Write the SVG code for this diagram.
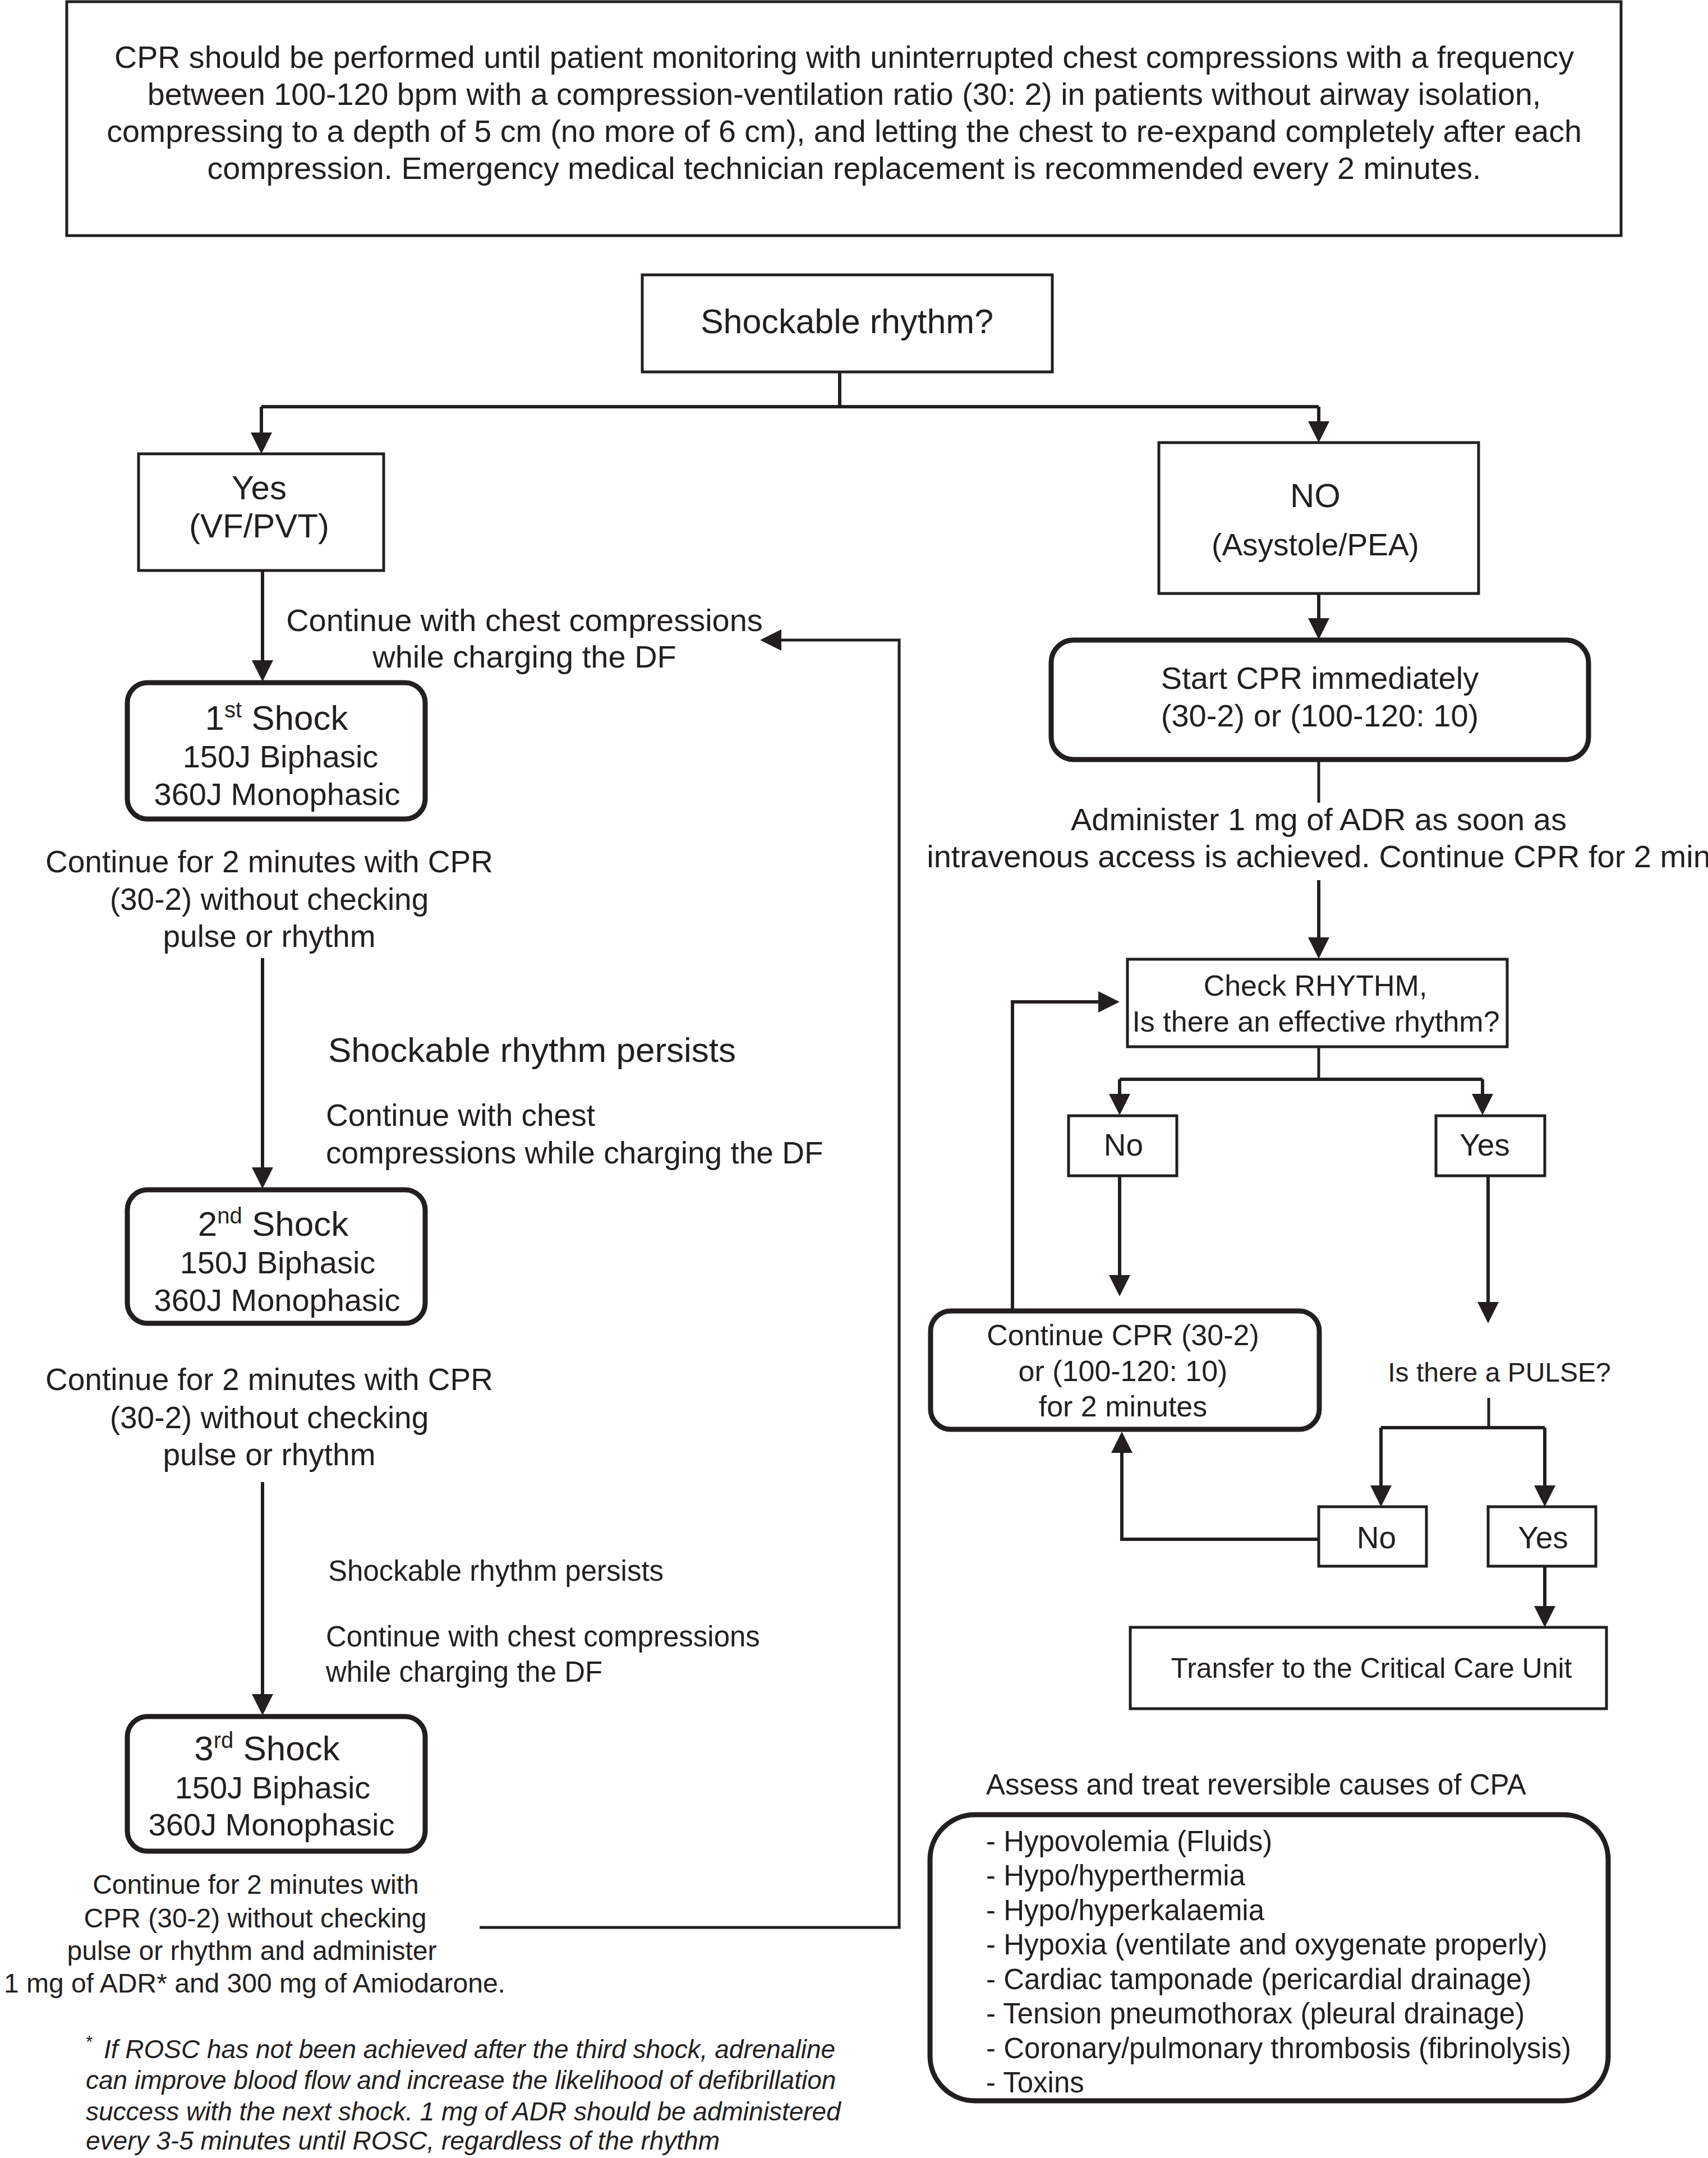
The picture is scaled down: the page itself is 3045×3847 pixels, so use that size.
<svg xmlns="http://www.w3.org/2000/svg" width="3045" height="3847" viewBox="0 0 3045 3847">
<style>
text{font-family:"Liberation Sans",Arial,Helvetica,sans-serif;fill:#231f20}
.c{text-anchor:middle}
.f62{font-size:62px}.f61{font-size:61px}.f60{font-size:60px}.f56{font-size:56px}.f555{font-size:55.6px}.f55{font-size:55px}.f52{font-size:52px}.f51{font-size:51px}.f50{font-size:50px}.f48{font-size:48px}
.fn{font-size:46px;font-style:italic}
.box{fill:#fff;stroke:#231f20;stroke-width:5}
.rbox{fill:#fff;stroke:#231f20;stroke-width:9}
.ln{fill:none;stroke:#231f20;stroke-width:6}
.ar{fill:none;stroke:#231f20;stroke-width:6;marker-end:url(#ah)}
.thin{stroke-width:5}
</style>
<defs>
<marker id="ah" markerUnits="userSpaceOnUse" markerWidth="40" markerHeight="40" refX="30" refY="19" orient="auto"><path d="M0,0 L38,19 L0,38 z" fill="#231f20"/></marker>
</defs>
<rect width="3045" height="3847" fill="#fff"/>

<g id="connectors">
<path class="ln" d="M1497,663 V725 M466,725 H2351"/>
<path class="ar" d="M466,725 V801"/>
<path class="ar" d="M2351,725 V781"/>
<path class="ar" d="M468,1017 V1207"/>
<path class="ar thin" d="M855,3436 H1603 V1141 H1363"/>
<path class="ar" d="M468,1708 V2111"/>
<path class="ar" d="M468,2642 V3050"/>
<path class="ar" d="M2351,1058 V1132"/>
<path class="ln thin" d="M2351,1354 V1431"/>
<path class="ar" d="M2351,1569 V1701"/>
<path class="ln thin" d="M2351,1866 V1924"/>
<path class="ln" d="M1996,1924 H2643"/>
<path class="ar" d="M1996,1924 V1980"/>
<path class="ar" d="M2643,1924 V1980"/>
<path class="ar" d="M1996,2096 V2303"/>
<path class="ar" d="M2653,2096 V2351"/>
<path class="ar" d="M1805,2337 V1786 H1988"/>
<path class="ln thin" d="M2654,2492 V2545"/>
<path class="ln" d="M2462,2545 H2754"/>
<path class="ar" d="M2462,2545 V2678"/>
<path class="ar" d="M2754,2545 V2678"/>
<path class="ar" d="M2351,2744 H2000 V2560"/>
<path class="ar" d="M2754,2792 V2893"/>
</g>

<g id="intro">
<rect class="box" x="119" y="3" width="2771" height="417"/>
<text class="c f555" x="1505" y="121">CPR should be performed until patient monitoring with uninterrupted chest compressions with a frequency</text>
<text class="c f555" x="1505" y="187">between 100-120 bpm with a compression-ventilation ratio (30: 2) in patients without airway isolation,</text>
<text class="c f555" x="1505" y="253">compressing to a depth of 5 cm (no more of 6 cm), and letting the chest to re-expand completely after each</text>
<text class="c f555" x="1505" y="319">compression. Emergency medical technician replacement is recommended every 2 minutes.</text>
</g>

<g id="shockable">
<rect class="box" x="1145" y="490" width="731" height="173"/>
<text class="c f61" x="1510" y="594">Shockable rhythm?</text>
</g>

<g id="yes-vf">
<rect class="box" x="247" y="809" width="437" height="208"/>
<text class="c f60" x="462" y="890">Yes</text>
<text class="c f60" x="462" y="958">(VF/PVT)</text>
</g>

<g id="no-asystole">
<rect class="box" x="2066" y="789" width="570" height="269"/>
<text class="c f60" x="2345" y="904">NO</text>
<text class="c f55" x="2345" y="990">(Asystole/PEA)</text>
</g>

<g id="label-continue-1">
<text class="c f56" x="935" y="1125">Continue with chest compressions</text>
<text class="c f56" x="935" y="1190">while charging the DF</text>
</g>

<g id="shock1">
<rect class="rbox" x="227" y="1217" width="531" height="243" rx="36"/>
<text class="c f62" x="493" y="1301">1<tspan font-size="40" dy="-22">st</tspan><tspan dy="22"> Shock</tspan></text>
<text class="c f56" x="500" y="1368">150J Biphasic</text>
<text class="c f56" x="494" y="1435">360J Monophasic</text>
</g>

<g id="label-cpr-1">
<text class="c f55" x="480" y="1555">Continue for 2 minutes with CPR</text>
<text class="c f55" x="480" y="1622">(30-2) without checking</text>
<text class="c f55" x="480" y="1688">pulse or rhythm</text>
</g>

<g id="label-persists-1">
<text class="f62" x="585" y="1893">Shockable rhythm persists</text>
<text class="f55" x="581" y="2007">Continue with chest</text>
<text class="f55" x="581" y="2074">compressions while charging the DF</text>
</g>

<g id="shock2">
<rect class="rbox" x="227" y="2121" width="531" height="238" rx="36"/>
<text class="c f62" x="487" y="2203">2<tspan font-size="40" dy="-22">nd</tspan><tspan dy="22"> Shock</tspan></text>
<text class="c f56" x="495" y="2270">150J Biphasic</text>
<text class="c f56" x="494" y="2337">360J Monophasic</text>
</g>

<g id="label-cpr-2">
<text class="c f55" x="480" y="2478">Continue for 2 minutes with CPR</text>
<text class="c f55" x="480" y="2546">(30-2) without checking</text>
<text class="c f55" x="480" y="2612">pulse or rhythm</text>
</g>

<g id="label-persists-2">
<text class="f51" x="585" y="2818">Shockable rhythm persists</text>
<text class="f51" x="581" y="2935">Continue with chest compressions</text>
<text class="f51" x="581" y="2998">while charging the DF</text>
</g>

<g id="shock3">
<rect class="rbox" x="227" y="3060" width="531" height="240" rx="36"/>
<text class="c f62" x="476" y="3138">3<tspan font-size="40" dy="-22">rd</tspan><tspan dy="22"> Shock</tspan></text>
<text class="c f56" x="486" y="3206">150J Biphasic</text>
<text class="c f56" x="484" y="3272">360J Monophasic</text>
</g>

<g id="label-cpr-3">
<text class="c f48" x="456" y="3376">Continue for 2 minutes with</text>
<text class="c f48" x="455" y="3436">CPR (30-2) without checking</text>
<text class="c f48" x="449" y="3494">pulse or rhythm and administer</text>
<text class="c f48" x="454" y="3552">1 mg of ADR* and 300 mg of Amiodarone.</text>
</g>

<g id="footnote">
<text class="fn" x="153" y="3669"><tspan font-size="32" font-style="normal" dy="-18">*</tspan><tspan x="185" dy="18">If ROSC has not been achieved after the third shock, adrenaline</tspan></text>
<text class="fn" x="153" y="3724">can improve blood flow and increase the likelihood of defibrillation</text>
<text class="fn" x="153" y="3780">success with the next shock. 1 mg of ADR should be administered</text>
<text class="fn" x="153" y="3832">every 3-5 minutes until ROSC, regardless of the rhythm</text>
</g>

<g id="start-cpr">
<rect class="rbox" x="1874" y="1141" width="958" height="213" rx="40"/>
<text class="c f56" x="2353" y="1228">Start CPR immediately</text>
<text class="c f56" x="2353" y="1295">(30-2) or (100-120: 10)</text>
</g>

<g id="label-adr">
<text class="c f56" x="2351" y="1480">Administer 1 mg of ADR as soon as</text>
<text class="c f56" x="2351" y="1546">intravenous access is achieved. Continue CPR for 2 min</text>
</g>

<g id="check-rhythm">
<rect class="box" x="2010" y="1710" width="677" height="156"/>
<text class="c f52" x="2345" y="1775">Check RHYTHM,</text>
<text class="c f52" x="2346" y="1839">Is there an effective rhythm?</text>
</g>

<g id="rhythm-no">
<rect class="box" x="1905" y="1989" width="193" height="107"/>
<text class="c f55" x="2003" y="2060">No</text>
</g>

<g id="rhythm-yes">
<rect class="box" x="2560" y="1989" width="194" height="107"/>
<text class="c f55" x="2647" y="2060">Yes</text>
</g>

<g id="continue-cpr">
<rect class="rbox" x="1659" y="2337" width="693" height="211" rx="36"/>
<text class="c f52" x="2002" y="2398">Continue CPR (30-2)</text>
<text class="c f52" x="2002" y="2462">or (100-120: 10)</text>
<text class="c f52" x="2002" y="2525">for 2 minutes</text>
</g>

<g id="label-pulse">
<text class="c f48" x="2673" y="2463">Is there a PULSE?</text>
</g>

<g id="pulse-no">
<rect class="box" x="2351" y="2686" width="192" height="106"/>
<text class="c f55" x="2454" y="2760">No</text>
</g>

<g id="pulse-yes">
<rect class="box" x="2653" y="2686" width="192" height="106"/>
<text class="c f55" x="2751" y="2760">Yes</text>
</g>

<g id="transfer">
<rect class="box" x="2015" y="2901" width="849" height="145"/>
<text class="c f50" x="2445" y="2991">Transfer to the Critical Care Unit</text>
</g>

<g id="causes">
<text class="f51" x="1758" y="3199">Assess and treat reversible causes of CPA</text>
<rect class="rbox" x="1658" y="3235" width="1209" height="510" rx="80"/>
<text class="f51" x="1758" y="3300">- Hypovolemia (Fluids)</text>
<text class="f51" x="1758" y="3361">- Hypo/hyperthermia</text>
<text class="f51" x="1758" y="3423">- Hypo/hyperkalaemia</text>
<text class="f51" x="1758" y="3484">- Hypoxia (ventilate and oxygenate properly)</text>
<text class="f51" x="1758" y="3546">- Cardiac tamponade (pericardial drainage)</text>
<text class="f51" x="1758" y="3607">- Tension pneumothorax (pleural drainage)</text>
<text class="f51" x="1758" y="3669">- Coronary/pulmonary thrombosis (fibrinolysis)</text>
<text class="f51" x="1758" y="3730">- Toxins</text>
</g>
</svg>
